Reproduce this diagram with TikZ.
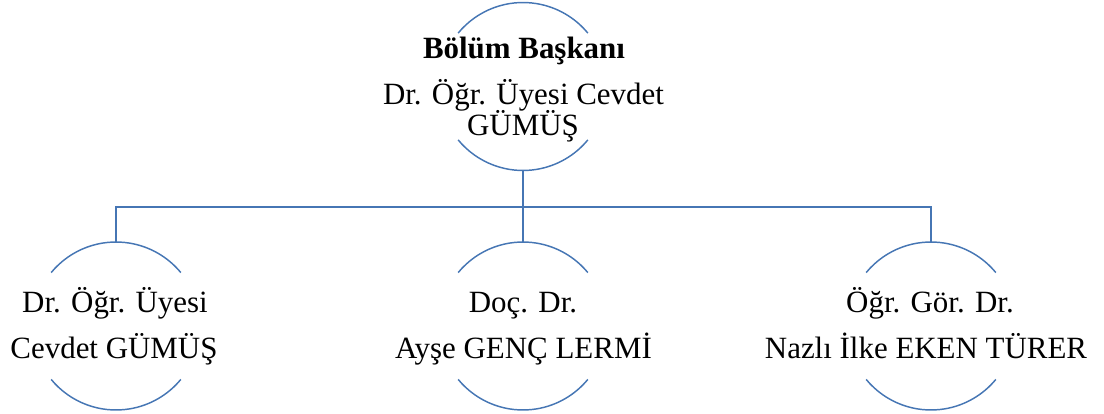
\documentclass[tikz,border=0pt]{standalone}
\usepackage{fontspec}
\setmainfont{Liberation Serif}
\definecolor{linec}{RGB}{70,118,180}
\begin{document}
\begin{tikzpicture}[x=0.75pt,y=0.75pt,
  ln/.style={draw=linec,line width=1.1pt},
  hub/.style={circle,minimum size=126pt,inner sep=0pt,outer sep=0pt,draw=none},
  txt/.style={anchor=base,inner sep=0pt,font=\fontsize{23.2}{27}\selectfont}]
\useasboundingbox (0,0) rectangle (1104,-414);
% circle frames
\node[hub] (c0) at (523,-86.5) {};
\node[hub] (c1) at (116,-326) {};
\node[hub] (c2) at (523,-326) {};
\node[hub] (c3) at (931,-326) {};
\foreach \c in {c0,c1,c2,c3}{
  \draw[ln] ([shift={(140.5:84)}]\c.center) arc[start angle=140.5,end angle=39.5,radius=84];
  \draw[ln] ([shift={(219.5:84)}]\c.center) arc[start angle=219.5,end angle=320.5,radius=84];
}
% connectors
\draw[ln] (c0.south) -- ++(0,-36.5) -| (c1.north);
\draw[ln] (c0.south) -- ++(0,-36.5) -| (c3.north);
\draw[ln] (c0.south) -- (c2.north);
% texts
\node[txt,font=\fontsize{23.2}{27}\selectfont\bfseries] (t0a) at (524,-58) {Bölüm Başkanı};
\node[txt] (t0b) at (523.5,-104) {Dr. Öğr. Üyesi Cevdet};
\node[txt] (t0c) at (523,-135) {GÜMÜŞ};
\node[txt] (t1a) at (115,-312) {Dr. Öğr. Üyesi};
\node[txt] (t1b) at (114,-358) {Cevdet GÜMÜŞ};
\node[txt] (t2a) at (523,-312) {Doç. Dr.};
\node[txt] (t2b) at (523.5,-358) {Ayşe GENÇ LERMİ};
\node[txt] (t3a) at (930,-312) {Öğr. Gör. Dr.};
\node[txt] (t3b) at (926,-358) {Nazlı İlke EKEN TÜRER};
\end{tikzpicture}
\end{document}
